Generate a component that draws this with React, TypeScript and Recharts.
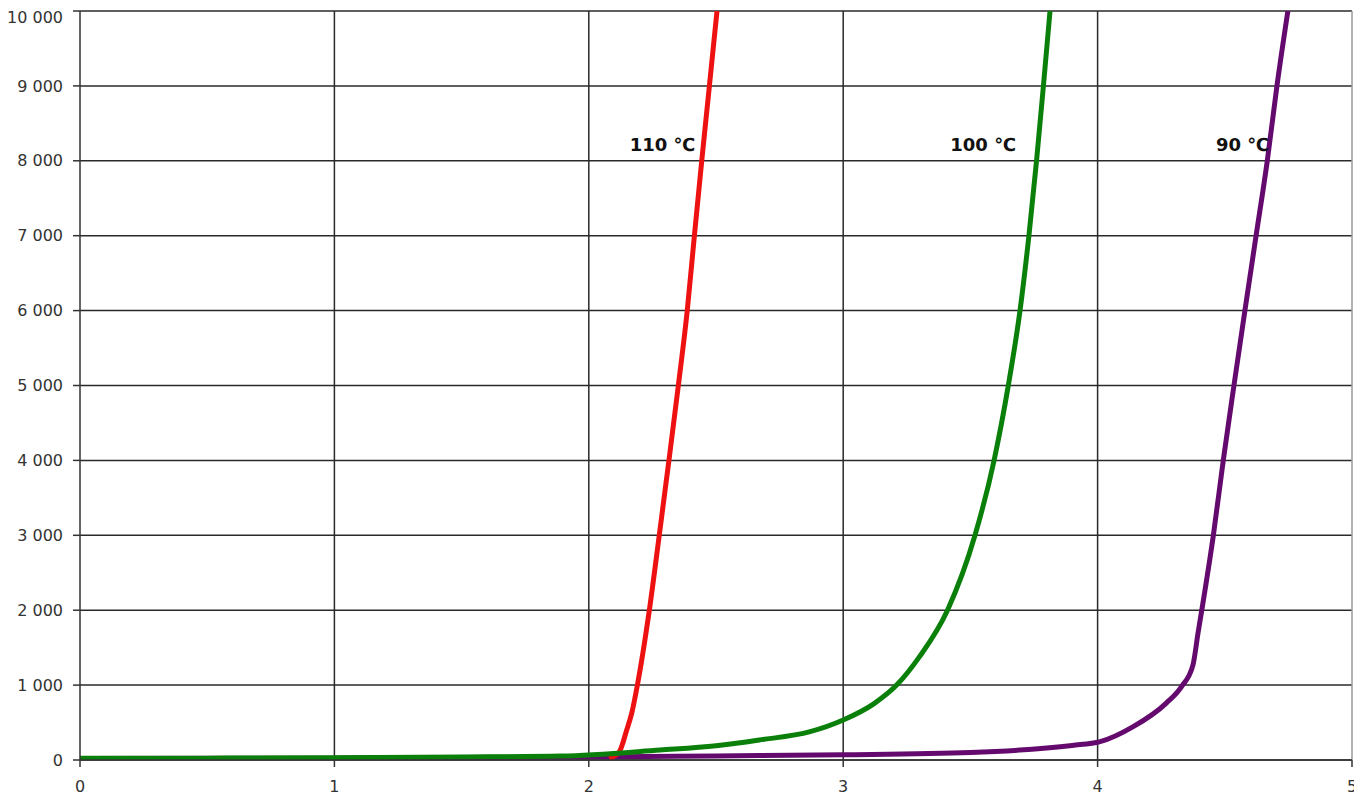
import {
  LineChart,
  Line,
  XAxis,
  YAxis,
  CartesianGrid,
  ReferenceDot,
  ReferenceLine,
} from "recharts";

// curve 90 °C (purple)
const curve90 = [
  { x: 0, y: 20 },
  { x: 1, y: 25 },
  { x: 2, y: 40 },
  { x: 2.5, y: 55 },
  { x: 3, y: 70 },
  { x: 3.5, y: 100 },
  { x: 3.8, y: 160 },
  { x: 3.9, y: 195 },
  { x: 4.01, y: 245 },
  { x: 4.14, y: 445 },
  { x: 4.27, y: 760 },
  { x: 4.33, y: 980 },
  { x: 4.375, y: 1270 },
  { x: 4.395, y: 1700 },
  { x: 4.416, y: 2136 },
  { x: 4.455, y: 3000 },
  { x: 4.494, y: 4000 },
  { x: 4.536, y: 5000 },
  { x: 4.579, y: 6000 },
  { x: 4.623, y: 7000 },
  { x: 4.667, y: 8000 },
  { x: 4.705, y: 9000 },
  { x: 4.748, y: 10000 },
];

// curve 110 °C (red)
const curve110 = [
  { x: 2.08, y: 20 },
  { x: 2.12, y: 110 },
  { x: 2.149, y: 400 },
  { x: 2.169, y: 630 },
  { x: 2.191, y: 1000 },
  { x: 2.238, y: 2000 },
  { x: 2.277, y: 3000 },
  { x: 2.315, y: 4000 },
  { x: 2.352, y: 5000 },
  { x: 2.387, y: 6000 },
  { x: 2.415, y: 7000 },
  { x: 2.444, y: 8000 },
  { x: 2.474, y: 9000 },
  { x: 2.504, y: 10000 },
];

// curve 100 °C (green)
const curve100 = [
  { x: 0, y: 22 },
  { x: 0.5, y: 25 },
  { x: 1, y: 30 },
  { x: 1.5, y: 40 },
  { x: 1.89, y: 53 },
  { x: 2.28, y: 133 },
  { x: 2.5, y: 190 },
  { x: 2.67, y: 267 },
  { x: 2.87, y: 378 },
  { x: 3.0, y: 534 },
  { x: 3.12, y: 750 },
  { x: 3.21, y: 1000 },
  { x: 3.3, y: 1380 },
  { x: 3.41, y: 2000 },
  { x: 3.518, y: 3000 },
  { x: 3.593, y: 4000 },
  { x: 3.649, y: 5000 },
  { x: 3.695, y: 6000 },
  { x: 3.73, y: 7000 },
  { x: 3.76, y: 8000 },
  { x: 3.787, y: 9000 },
  { x: 3.813, y: 10000 },
];

const xTicks = [0, 1, 2, 3, 4, 5];
const yTicks = [0, 1000, 2000, 3000, 4000, 5000, 6000, 7000, 8000, 9000, 10000];

const labelNames = ["110 ℃", "100 ℃", "90 ℃"];
const labelX = [2.29, 3.55, 4.57];
const labelY = [8210, 8210, 8210];

const fmtThousands = (v: number) =>
  String(v).replace(/\B(?=(\d{3})+(?!\d))/g, " ");

const tickStyle = { fontSize: 16, fill: "#333" };

export default function App() {
  return (
    <div style={{ fontFamily: "'DejaVu Sans', sans-serif" }}>
      <LineChart
        width={1354}
        height={790}
        margin={{ top: 3, right: 10, left: 10, bottom: 8 }}
      >
        <CartesianGrid
          stroke="#2a2a2a"
          strokeWidth={1.5}
          verticalValues={[1, 2, 3, 4]}
        />
        <ReferenceLine x={5} stroke="#9a9a9a" strokeWidth={1.5} />
        <XAxis
          type="number"
          dataKey="x"
          domain={[0, 5]}
          ticks={xTicks}
          allowDataOverflow
          tick={tickStyle}
          tickSize={7}
          tickMargin={14}
          height={30}
          stroke="#333"
          strokeWidth={1.5}
        />
        <YAxis
          type="number"
          dataKey="y"
          domain={[0, 10000]}
          ticks={yTicks}
          allowDataOverflow
          tickFormatter={fmtThousands}
          tick={tickStyle}
          tickSize={7}
          tickMargin={10}
          width={62}
          stroke="#333"
          strokeWidth={1.5}
        />
        <Line
          data={curve90}
          dataKey="y"
          type="monotone"
          stroke="#640a6e"
          strokeWidth={5}
          dot={false}
          isAnimationActive={false}
        />
        <Line
          data={curve110}
          dataKey="y"
          type="monotone"
          stroke="#ee1111"
          strokeWidth={5}
          dot={false}
          isAnimationActive={false}
        />
        <Line
          data={curve100}
          dataKey="y"
          type="monotone"
          stroke="#0a800a"
          strokeWidth={5}
          dot={false}
          isAnimationActive={false}
        />
        {labelNames.map((name, i) => (
          <ReferenceDot
            key={name}
            x={labelX[i]}
            y={labelY[i]}
            r={0}
            fill="none"
            stroke="none"
            label={{
              value: name,
              position: "center",
              fill: "#111",
              fontSize: 18,
              fontWeight: "bold",
            }}
          />
        ))}
      </LineChart>
    </div>
  );
}
